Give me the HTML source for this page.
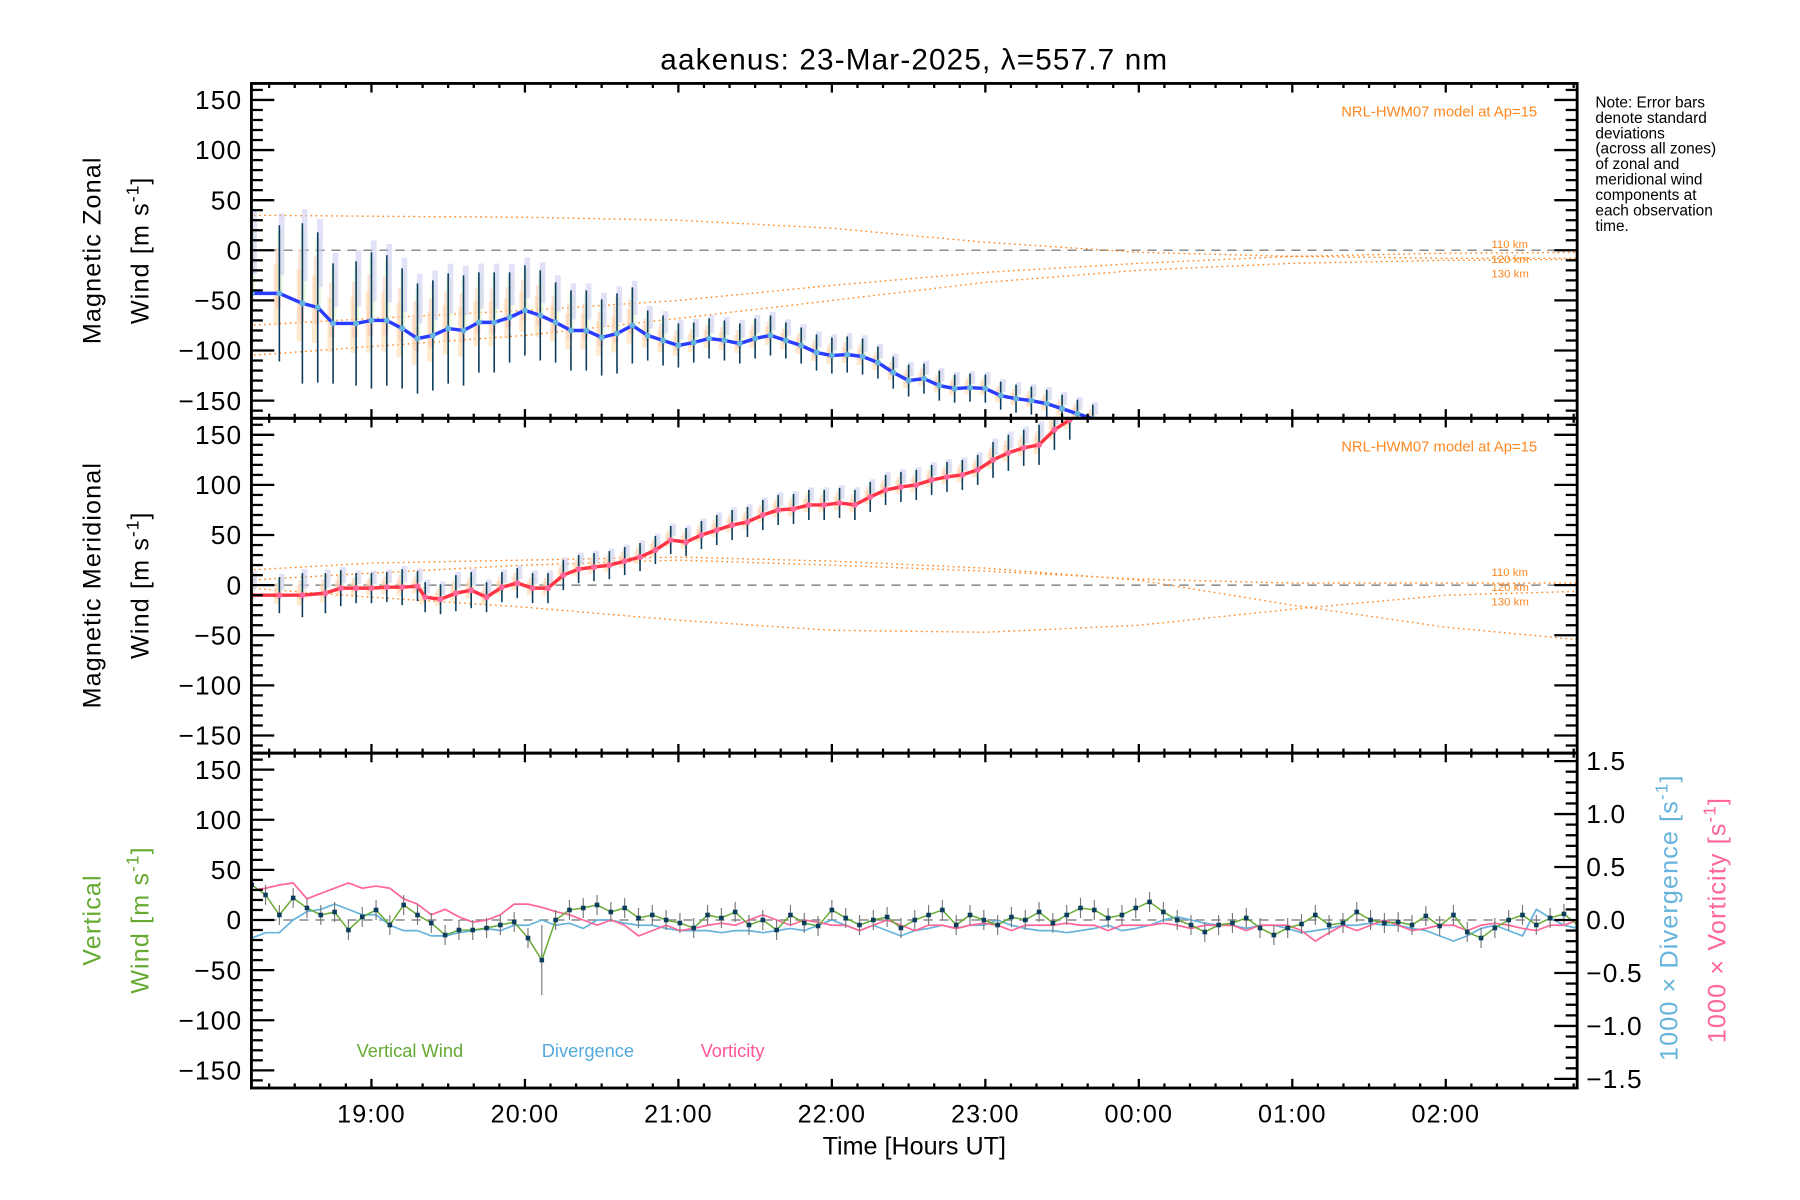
<!DOCTYPE html>
<html><head><meta charset="utf-8"><style>
html,body{margin:0;padding:0;background:#fff;}
svg{display:block;font-family:"Liberation Sans",sans-serif;}
</style></head><body>
<svg id="chart" width="1800" height="1200" viewBox="0 0 1575 1050" preserveAspectRatio="none" xmlns="http://www.w3.org/2000/svg">
<rect width="1575" height="1050" fill="#fff"/>
<text x="800" y="61" font-size="26" text-anchor="middle" fill="#000" letter-spacing="1">aakenus: 23-Mar-2025, λ=557.7 nm</text>
<g id="layer"></g>
<text x="800" y="1010" font-size="22" text-anchor="middle">Time [Hours UT]</text>
<g font-size="13.5" fill="#000">
<text x="1396" y="94">Note: Error bars</text><text x="1396" y="107.5">denote standard</text><text x="1396" y="121">deviations</text><text x="1396" y="134.5">(across all zones)</text><text x="1396" y="148">of zonal and</text><text x="1396" y="161.5">meridional wind</text><text x="1396" y="175">components at</text><text x="1396" y="188.5">each observation</text><text x="1396" y="202">time.</text>
</g>
<text transform="translate(88,219) rotate(-90)" font-size="22" text-anchor="middle" letter-spacing="1">Magnetic Zonal</text>
<text transform="translate(130,219) rotate(-90)" font-size="22" text-anchor="middle" letter-spacing="1">Wind [m s<tspan dy="-9" font-size="15">-1</tspan><tspan dy="9">]</tspan></text>
<text transform="translate(88,512) rotate(-90)" font-size="22" text-anchor="middle" letter-spacing="1">Magnetic Meridional</text>
<text transform="translate(130,512) rotate(-90)" font-size="22" text-anchor="middle" letter-spacing="1">Wind [m s<tspan dy="-9" font-size="15">-1</tspan><tspan dy="9">]</tspan></text>
<text transform="translate(88,805) rotate(-90)" font-size="22" text-anchor="middle" fill="#66aa33" letter-spacing="1">Vertical</text>
<text transform="translate(130,805) rotate(-90)" font-size="22" text-anchor="middle" fill="#66aa33" letter-spacing="1">Wind [m s<tspan dy="-9" font-size="15">-1</tspan><tspan dy="9">]</tspan></text>
<text transform="translate(1468,803) rotate(-90)" font-size="22" text-anchor="middle" fill="#66b3dd" letter-spacing="1">1000 × Divergence [s<tspan dy="-9" font-size="15">-1</tspan><tspan dy="9">]</tspan></text>
<text transform="translate(1510,805) rotate(-90)" font-size="22" text-anchor="middle" fill="#ff6699" letter-spacing="1">1000 × Vorticity [s<tspan dy="-9" font-size="15">-1</tspan><tspan dy="9">]</tspan></text>
<text x="312" y="925" font-size="16" fill="#66aa33">Vertical Wind</text>
<text x="474" y="925" font-size="16" fill="#55aadd">Divergence</text>
<text x="613" y="925" font-size="16" fill="#ff5599">Vorticity</text>
<text x="1345" y="102" font-size="13" text-anchor="end" fill="#ff8822">NRL-HWM07 model at Ap=15</text>
<text x="1345" y="395" font-size="13" text-anchor="end" fill="#ff8822">NRL-HWM07 model at Ap=15</text>
<g font-size="10" fill="#ff8822">
<text x="1305" y="217">110 km</text><text x="1305" y="230">120 km</text><text x="1305" y="243">130 km</text>
<text x="1305" y="504">110 km</text><text x="1305" y="517">120 km</text><text x="1305" y="530">130 km</text>
</g>
</svg>
<script>
// ---- data ----
const zonalTimes=[18.22,18.4,18.55,18.65,18.75,18.9,19.0,19.1,19.2,19.3,19.4,19.5,19.6,19.7,19.8,19.9,20.0,20.1,20.2,20.3,20.4,20.5,20.6,20.7,20.8,20.9,21.0,21.1,21.2,21.3,21.4,21.5,21.6,21.7,21.8,21.9,22.0,22.1,22.2,22.3,22.4,22.5,22.6,22.7,22.8,22.9,23.0,23.1,23.2,23.3,23.4,23.5,23.6,23.7];
const zonalMean=[-43,-43,-53,-57,-73,-73,-70,-70,-78,-88,-85,-78,-80,-72,-72,-67,-60,-65,-72,-80,-80,-87,-83,-75,-85,-90,-95,-92,-88,-90,-93,-88,-85,-90,-95,-102,-105,-104,-106,-112,-122,-130,-128,-135,-138,-137,-138,-145,-148,-150,-153,-158,-163,-168];
const zonalSD=[70,68,80,75,60,62,68,65,60,55,55,55,55,50,50,45,45,45,40,40,40,38,40,38,25,25,22,20,20,20,20,20,20,18,18,18,18,18,18,16,16,16,15,15,14,14,14,14,14,14,14,14,14,14];
const merTimes=[18.22,18.4,18.55,18.7,18.8,18.9,19.0,19.1,19.2,19.3,19.35,19.45,19.55,19.65,19.75,19.85,19.95,20.05,20.15,20.25,20.35,20.45,20.55,20.65,20.75,20.85,20.95,21.05,21.15,21.25,21.35,21.45,21.55,21.65,21.75,21.85,21.95,22.05,22.15,22.25,22.35,22.45,22.55,22.65,22.75,22.85,22.95,23.05,23.15,23.25,23.35,23.45,23.55];
const merMean=[-10,-10,-10,-8,-3,-3,-3,-2,-2,-1,-12,-14,-8,-5,-12,-2,2,-3,-3,10,16,18,20,24,28,35,45,43,50,55,60,63,70,75,76,80,80,82,80,88,95,98,100,105,108,110,115,125,132,137,140,155,165];
const merSD=[20,18,22,20,18,15,15,15,18,15,15,15,18,18,15,15,15,15,15,15,14,14,14,14,14,14,14,14,14,15,15,15,15,15,15,15,15,15,15,15,15,15,15,15,15,15,15,18,18,18,20,20,20];
const modelHours=[18.2,19,20,21,22,23,24,25,26,26.9];
const zonal110=[35,34,33,30,22,8,-2,-6,-8,-8];
const zonal120=[-75,-68,-60,-50,-35,-22,-13,-6,-3,-2];
const zonal130=[-105,-96,-85,-68,-50,-32,-20,-13,-10,-9];
const mer110=[15,22,25,28,24,17,5,-20,-42,-55];
const mer120=[5,12,20,25,20,14,6,2,2,2];
const mer130=[-3,-12,-22,-35,-45,-47,-40,-24,-10,-6];
const vertStart=18.22, vertStep=0.09;
const vertWind=[35,25,5,22,12,5,8,-10,3,10,-5,15,5,-3,-15,-10,-10,-8,-5,-2,-18,-40,0,10,12,15,8,12,2,5,0,-3,-8,5,2,8,-5,0,-10,5,-3,-6,10,2,-5,0,3,-8,0,5,10,-5,5,0,-5,3,0,8,-3,5,12,10,2,5,12,18,8,0,-5,-12,-5,-3,2,-8,-15,-8,-4,5,-5,-3,8,0,-3,-2,-5,4,-6,5,-12,-18,-8,0,5,-5,2,6,-5,0,3,-2,4,0];
const divStart=18.22, divStep=0.09;
const divergence=[-0.17,-0.12,-0.12,0.0,0.08,0.1,0.15,0.1,0.05,0.05,-0.05,-0.1,-0.1,-0.15,-0.15,-0.12,-0.1,-0.08,-0.1,-0.05,-0.05,0.0,-0.05,-0.03,-0.08,0.0,0.0,-0.03,-0.05,-0.05,-0.08,-0.1,-0.1,-0.1,-0.12,-0.1,-0.1,-0.12,-0.1,-0.08,-0.1,-0.05,0.0,-0.05,-0.1,-0.05,-0.1,-0.15,-0.1,-0.08,-0.05,-0.08,-0.05,-0.05,0.0,-0.05,-0.08,-0.1,-0.1,-0.12,-0.1,-0.08,-0.05,-0.1,-0.08,-0.05,0.0,0.03,0.0,-0.03,-0.05,-0.05,-0.08,-0.05,-0.05,-0.08,-0.12,-0.1,-0.08,-0.05,-0.05,-0.03,-0.05,-0.05,-0.08,-0.1,-0.15,-0.2,-0.15,-0.08,-0.05,-0.1,-0.15,0.1,0.02,-0.05,-0.08,-0.03,-0.05,-0.05,0.0];
const vorticity=[0.28,0.3,0.33,0.35,0.2,0.25,0.3,0.35,0.3,0.32,0.3,0.2,0.15,0.05,0.1,0.03,-0.02,0.0,0.05,0.15,0.15,0.12,0.08,0.05,0.0,-0.05,0.0,-0.05,-0.15,-0.1,-0.05,-0.1,-0.08,-0.05,-0.03,-0.05,0.0,0.05,0.0,-0.05,0.0,-0.02,-0.05,-0.05,-0.1,-0.05,0.0,-0.05,-0.1,-0.05,-0.05,-0.08,-0.05,-0.03,-0.05,-0.1,-0.05,-0.05,-0.05,-0.03,-0.05,-0.05,-0.1,-0.05,-0.05,-0.05,-0.03,-0.05,-0.08,-0.05,-0.05,-0.05,-0.1,-0.05,-0.05,-0.05,-0.1,-0.2,-0.12,-0.05,-0.1,-0.05,0.0,-0.05,-0.1,-0.08,-0.05,-0.05,-0.1,-0.05,-0.03,-0.05,-0.08,-0.1,-0.05,-0.05,0.0,-0.05,-0.05,-0.03,0.0];
const xTickLabels=["19:00","20:00","21:00","22:00","23:00","00:00","01:00","02:00"];
const xTickHours=[19,20,21,22,23,24,25,26];
const yTickValues=[150,100,50,0,-50,-100,-150];
const rightTickValues=[1.5,1.0,0.5,0.0,-0.5,-1.0,-1.5];

// ---- layout ----
const L=220,R=1380,H=293;
const X0=18.218, X1=26.856;
const panels=[{top:73,zero:219},{top:366,zero:512},{top:659,zero:805}];
const pxPerUnit=0.877, pxPerRight=92.7;
const NS='http://www.w3.org/2000/svg';
const layer=document.getElementById('layer');
function xs(h){return L+(h-X0)/(X1-X0)*(R-L);}
function ys(p,v){return panels[p].zero-v*pxPerUnit;}
function yr(v){return panels[2].zero-v*pxPerRight;}
function mk(tag,attrs,parent){const e=document.createElementNS(NS,tag);for(const k in attrs)e.setAttribute(k,attrs[k]);(parent||layer).appendChild(e);return e;}
function clip(p){return 'url(#clip'+p+')';}
const defs=mk('defs',{});
for(let p=0;p<3;p++){const c=mk('clipPath',{id:'clip'+p},defs);mk('rect',{x:L,y:panels[p].top,width:R-L,height:H},c);}
function pline(pts,attrs,name){const e=mk('polyline',Object.assign({points:pts.map(q=>q[0].toFixed(1)+','+q[1].toFixed(1)).join(' '),fill:'none'},attrs));return e;}

for(let p=0;p<3;p++){const z=mk('line',{x1:L,x2:R,y1:panels[p].zero,y2:panels[p].zero,stroke:'#888',"stroke-width":1.3,"stroke-dasharray":"8,6"});}

function model(p,arr,name){pline(modelHours.map((h,i)=>[xs(h),ys(p,arr[i])]),{stroke:'#ff8822',"stroke-width":1.2,"stroke-dasharray":"1.5,3","clip-path":clip(p)},name);}
model(0,zonal110,'zonal-model-110km');model(0,zonal120,'zonal-model-120km');model(0,zonal130,'zonal-model-130km');
model(1,mer110,'meridional-model-110km');model(1,mer120,'meridional-model-120km');model(1,mer130,'meridional-model-130km');

const bandCols=['#ffd9a8','#ffc2b0','#d8f5d0','#c8c8f0'];
function windSeries(p,times,mean,sd,lineCol,ptCol,name){
  const g=mk('g',{"clip-path":clip(p)});
  times.forEach((t,i)=>{const x=xs(t);
    for(let k=0;k<4;k++){const off=(k-1.5)*sd[i]*0.25;
      const r=mk('rect',{x:x-3+k*1.5-2,y:ys(p,mean[i]+sd[i]*0.8+off),width:5,height:sd[i]*0.9*pxPerUnit,fill:bandCols[k],opacity:0.55},g);
      }
  });
  times.forEach((t,i)=>{const x=xs(t);
    const e=mk('line',{x1:x,x2:x,y1:ys(p,mean[i]+sd[i]),y2:ys(p,mean[i]-sd[i]),stroke:'#0c3d5e',"stroke-width":1.4},g);
    });
  pline(times.map((t,i)=>[xs(t),ys(p,mean[i])]),{stroke:lineCol,"stroke-width":3,"clip-path":clip(p)},name+'-line');
  times.forEach((t,i)=>{const c=mk('circle',{cx:xs(t),cy:ys(p,mean[i]),r:2.6,fill:ptCol,"clip-path":clip(p)});
    });
}
windSeries(0,zonalTimes,zonalMean,zonalSD,'#2a3cff','#66b3dd','zonal-mean');
windSeries(1,merTimes,merMean,merSD,'#ff3344','#ff6699','meridional-mean');

pline(divergence.map((v,i)=>[xs(divStart+i*divStep),yr(v)]),{stroke:'#66b3dd',"stroke-width":1.5,"clip-path":clip(2)},'divergence-line');
pline(vorticity.map((v,i)=>[xs(divStart+i*divStep),yr(v)]),{stroke:'#ff6699',"stroke-width":1.5,"clip-path":clip(2)},'vorticity-line');
vertWind.forEach((v,i)=>{const x=xs(vertStart+i*vertStep);const e=mk('line',{x1:x,x2:x,y1:ys(2,v+(v<-30?35:10)),y2:ys(2,v-(v<-30?35:10)),stroke:'#777',"stroke-width":1,"clip-path":clip(2)});
  });
pline(vertWind.map((v,i)=>[xs(vertStart+i*vertStep),ys(2,v)]),{stroke:'#66aa33',"stroke-width":1.3,"clip-path":clip(2)},'vertical-wind-line');
vertWind.forEach((v,i)=>{const x=xs(vertStart+i*vertStep);const r=mk('rect',{x:x-2,y:ys(2,v)-2,width:4,height:4,fill:'#0c3d5e',"clip-path":clip(2)});
  });

for(let p=0;p<3;p++){
  const top=panels[p].top;
  const f=mk('rect',{x:L,y:top,width:R-L,height:H,fill:'none',stroke:'#000',"stroke-width":2.5});
  
  const tg=mk('g',{stroke:'#000',"stroke-width":2});
  for(let v=-160;v<=160;v+=10){const y=ys(p,v);if(y<top+1||y>top+H-1)continue;const len=(v%50===0)?20:10;
    mk('line',{x1:L,x2:L+len,y1:y,y2:y},tg);
    if(p<2)mk('line',{x1:R,x2:R-len,y1:y,y2:y},tg);}
  if(p===2){for(let k=-15;k<=15;k++){const y=yr(k/10);if(y<top+1||y>top+H-1)continue;const len=(k%5===0)?20:10;mk('line',{x1:R,x2:R-len,y1:y,y2:y},tg);}}
  for(let m=Math.ceil(X0*6);m<=X1*6;m++){const x=xs(m/6);const len=(m%6===0)?8:4;
    mk('line',{x1:x,x2:x,y1:top,y2:top+len},tg);mk('line',{x1:x,x2:x,y1:top+H,y2:top+H-len},tg);}
  yTickValues.forEach(v=>{const t=mk('text',{x:212,y:ys(p,v)+8,"font-size":23,"text-anchor":"end","letter-spacing":1});t.textContent=(v<0?'\u2212'+(-v):v);
    });
}
rightTickValues.forEach(v=>{const t=mk('text',{x:1388,y:yr(v)+8,"font-size":23,"letter-spacing":1});t.textContent=(v<0?'\u2212'+(-v).toFixed(1):v.toFixed(1));
  });
xTickHours.forEach((h,i)=>{const t=mk('text',{x:xs(h),y:982,"font-size":22,"text-anchor":"middle","letter-spacing":1});t.textContent=xTickLabels[i];
  });
</script>
</body></html>
